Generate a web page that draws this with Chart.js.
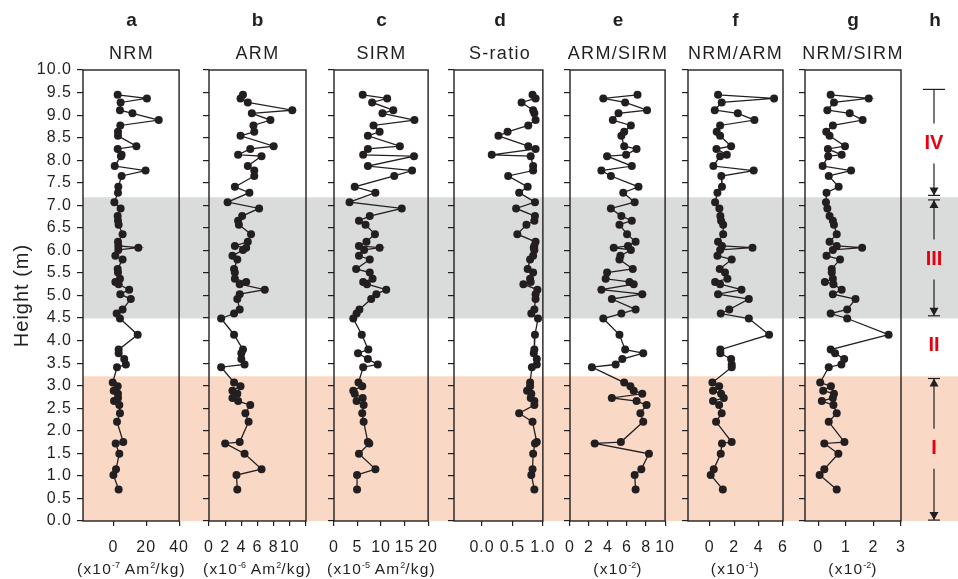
<!DOCTYPE html>
<html>
<head>
<meta charset="utf-8">
<script src="https://cdn.jsdelivr.net/npm/chart.js@4.4.0/dist/chart.umd.min.js"></script>
<style>
  body { margin: 0; background: #fff; }
  #wrap { position: relative; width: 958px; height: 579px; overflow: hidden; font-family: 'Liberation Sans', Arial, sans-serif; color: #231f20; }
  #wrap canvas { position: absolute; top: 0; }
  .lbl { position: absolute; width: 200px; text-align: center; white-space: nowrap; }
  .letter { font-weight: bold; font-size: 19px; line-height: 19px; top: 10px; }
  .name { font-size: 18px; line-height: 18px; top: 44px; letter-spacing: 1.3px; }
  .unit { font-size: 15.5px; line-height: 15px; top: 561px; letter-spacing: 1.2px; }
  .unit sup { font-size: 9px; line-height: 0; vertical-align: 6px; letter-spacing: 0; }
</style>
</head>
<body>
<div id="wrap"></div>
<script>
// sample heights (m), shared by all panels
const depth = [9.45, 9.37, 9.28, 9.11, 9.04, 8.89, 8.77, 8.63, 8.54, 8.31,
  8.25, 8.12, 8.09, 7.87, 7.77, 7.65, 7.41, 7.28, 7.07, 6.93,
  6.76, 6.66, 6.57, 6.36, 6.19, 6.10, 6.06, 6.01, 5.88, 5.80,
  5.59, 5.51, 5.37, 5.30, 5.25, 5.13, 5.03, 4.92, 4.69, 4.60,
  4.49, 4.13, 3.80, 3.72, 3.59, 3.47, 3.41, 3.07, 2.99, 2.89,
  2.82, 2.73, 2.66, 2.57, 2.39, 2.20, 1.75, 1.72, 1.49, 1.15,
  1.02, 0.70]

const nrm = [2.6, 20.4, 4.4, 4.0, 11.6, 27.6, 4.2, 2.8, 2.8, 14.0,
  2.6, 5.0, 4.6, 0.8, 19.6, 5.0, 3.0, 2.8, 0.6, 4.4,
  2.6, 2.8, 3.2, 5.6, 2.8, 3.0, 15.2, 3.0, 1.2, 5.6,
  2.6, 2.8, 4.0, 1.2, 3.2, 9.6, 4.2, 10.6, 5.6, 2.0,
  4.0, 14.8, 3.2, 3.2, 6.6, 7.6, 2.2, -0.4, 2.6, 0.2,
  2.8, 2.8, 0.4, 3.6, 4.0, 2.2, 6.0, 1.4, 3.6, 1.6,
  0.0, 3.2]

const arm = [4.2, 3.9, 4.8, 10.3, 5.3, 7.6, 5.5, 5.6, 3.9, 8.0,
  5.1, 3.6, 6.5, 4.8, 5.6, 5.6, 3.2, 5.0, 2.3, 6.2,
  4.1, 3.6, 3.7, 5.2, 4.8, 3.2, 4.6, 4.2, 2.9, 3.5,
  3.1, 3.2, 3.2, 4.6, 3.8, 6.9, 3.8, 3.5, 3.8, 3.1,
  1.5, 3.1, 4.2, 4.0, 4.0, 4.4, 1.5, 3.1, 3.9, 2.9,
  3.5, 2.9, 3.6, 5.1, 4.5, 4.9, 3.8, 2.0, 4.4, 6.5,
  3.4, 3.5]

const sirm = [6.1, 11.3, 8.1, 12.6, 10.3, 17.1, 8.4, 9.7, 7.2, 14.0,
  7.2, 6.2, 17.0, 7.2, 16.6, 12.8, 4.4, 8.8, 3.3, 14.4,
  7.6, 5.3, 6.7, 8.7, 6.9, 5.3, 9.7, 6.4, 5.3, 7.6,
  4.7, 7.6, 8.2, 6.2, 7.0, 11.1, 9.0, 7.9, 5.4, 4.8,
  4.1, 5.9, 7.3, 5.1, 7.2, 9.3, 6.2, 5.2, 6.0, 4.1,
  4.4, 6.1, 4.8, 6.3, 6.0, 6.3, 7.2, 7.5, 5.3, 8.8,
  4.9, 4.9]

const sRatio = [0.83, 0.88, 0.65, 0.84, 0.86, 0.88, 0.76, 0.42, 0.27, 0.76,
  0.88, 0.16, 0.80, 0.84, 0.84, 0.43, 0.75, 0.61, 0.87, 0.56,
  0.87, 0.86, 0.73, 0.58, 0.88, 0.86, 0.85, 0.86, 0.84, 0.79,
  0.75, 0.84, 0.79, 0.80, 0.68, 0.91, 0.88, 0.88, 0.86, 0.81,
  0.92, 0.87, 0.86, 0.85, 0.90, 0.90, 0.82, 0.79, 0.79, 0.74,
  0.81, 0.80, 0.86, 0.86, 0.61, 0.83, 0.90, 0.87, 0.84, 0.83,
  0.81, 0.86]

const armSirm = [7.1, 3.5, 5.8, 8.1, 5.1, 4.5, 6.4, 5.7, 5.4, 5.7,
  7.0, 5.9, 3.9, 6.5, 3.3, 4.3, 7.2, 5.6, 6.8, 4.3,
  5.4, 6.5, 5.2, 6.0, 6.9, 6.1, 4.6, 6.4, 5.3, 5.2,
  6.6, 3.9, 3.75, 6.25, 6.7, 3.3, 7.6, 4.4, 6.9, 5.4,
  3.5, 5.2, 5.8, 7.7, 5.5, 4.8, 2.3, 5.7, 6.35, 6.7,
  7.6, 4.4, 7.0, 8.05, 7.4, 7.7, 5.35, 2.6, 8.3, 7.5,
  6.8, 6.9]

const nrmArm = [0.68, 5.27, 0.98, 0.41, 2.3, 3.66, 0.85, 0.57, 0.85, 1.75,
  0.55, 1.4, 0.85, 0.3, 3.6, 0.95, 1.0, 0.63, 0.44, 0.79,
  0.87, 0.93, 1.1, 1.1, 0.68, 1.0, 3.5, 0.85, 0.63, 1.8,
  0.82, 1.25, 1.45, 0.44, 0.85, 2.6, 0.68, 3.2, 1.6, 0.9,
  3.2, 4.86, 0.87, 0.87, 1.75, 1.8, 1.8, 0.22, 0.77, 0.27,
  0.93, 1.15, 0.27, 0.77, 0.98, 0.52, 1.8, 1.0, 0.9, 0.33,
  0.08, 1.07]

const nrmSirm = [0.45, 1.83, 0.57, 0.33, 1.14, 1.61, 0.53, 0.29, 0.41, 0.97,
  0.35, 0.85, 0.36, 0.16, 1.19, 0.38, 0.74, 0.3, 0.28, 0.33,
  0.41, 0.53, 0.57, 0.67, 0.41, 0.67, 1.59, 0.53, 0.3, 0.79,
  0.49, 0.49, 0.53, 0.24, 0.55, 0.85, 0.53, 1.35, 1.05, 0.45,
  1.05, 2.55, 0.45, 0.61, 0.94, 0.84, 0.38, 0.07, 0.46, 0.18,
  0.57, 0.53, 0.13, 0.55, 0.67, 0.38, 0.95, 0.22, 0.73, 0.22,
  0.05, 0.67]

const panelLetters = ['a', 'b', 'c', 'd', 'e', 'f', 'g']
const panelNames = ['NRM', 'ARM', 'SIRM', 'S-ratio', 'ARM/SIRM', 'NRM/ARM', 'NRM/SIRM']
const panelValues = [nrm, arm, sirm, sRatio, armSirm, nrmArm, nrmSirm]
const xRanges = [[-18.5, 40], [0, 12], [0, 20], [-0.46, 1], [0, 10], [-1.78, 6], [-0.48, 3]]
const xTickValues = [[0, 20, 40], [0, 2, 4, 6, 8, 10, 12], [0, 5, 10, 15, 20], [0, 0.5, 1], [0, 2, 4, 6, 8, 10], [0, 2, 4, 6], [0, 1, 2, 3]]
const xTickLabels = [['0', '20', '40'], ['0', '2', '4', '6', '8', '10', ''], ['0', '5', '10', '15', '20'], ['0.0', '0.5', '1.0'], ['0', '2', '4', '6', '8', '10'], ['0', '2', '4', '6'], ['0', '1', '2', '3']]
const unitTexts = ['(x10<sup>-7</sup> Am<sup>2</sup>/kg)', '(x10<sup>-6</sup> Am<sup>2</sup>/kg)', '(x10<sup>-5</sup> Am<sup>2</sup>/kg)', '',
  '(x10<sup>-2</sup>)', '(x10<sup>-1</sup>)', '(x10<sup>-2</sup>)']

// background bands and lithological units (column h)
const grayBand = [4.5, 7.17]
const peachBand = [0, 3.2]
const unitNames = ['I', 'II', 'III', 'IV']
const unitLabelAt = [1.6, 3.9, 5.8, 8.37]
const unitSpans = [[0.02, 3.16], null, [4.55, 7.12], [7.22, 9.57]]

// layout (px)
const boxes = [[83, 180], [209, 306], [334, 429], [454, 546], [570, 666], [688, 783], [805, 901]]
const plotTop = 70
const plotBottom = 521
const H = 579
const ink = '#231f20'
const family = "'Liberation Sans', Arial, sans-serif"

Chart.defaults.font.family = family
Chart.defaults.color = ink

const wrap = document.getElementById('wrap')

const spacing = {
  id: 'spacing',
  beforeDraw(c) {
    c.ctx.letterSpacing = '1px'
  },
}

const frame = {
  id: 'frame',
  afterDraw(c) {
    const { left, top, right, bottom } = c.chartArea
    const ctx = c.ctx
    ctx.save()
    ctx.strokeStyle = ink
    ctx.lineWidth = 1.4
    ctx.strokeRect(left, top, right - left, bottom - top)
    ctx.restore()
  },
}

function addCanvas(left, width) {
  const cv = document.createElement('canvas')
  cv.width = width
  cv.height = H
  cv.style.left = left + 'px'
  cv.style.width = width + 'px'
  cv.style.height = H + 'px'
  wrap.appendChild(cv)
  return cv
}

function addLabel(cls, cx, html) {
  const d = document.createElement('div')
  d.className = 'lbl ' + cls
  d.style.left = cx - 100 + 'px'
  d.innerHTML = html
  wrap.appendChild(d)
}

// unit column drawn on the background chart
const unitColumn = {
  id: 'unitColumn',
  afterDraw(c) {
    const ctx = c.ctx
    const y = c.scales.y
    const x = 934
    const gap = 20
    ctx.save()
    ctx.strokeStyle = ink
    ctx.fillStyle = ink
    ctx.lineWidth = 1.2
    const arrow = (tip, dir) => {
      ctx.beginPath()
      ctx.moveTo(x, tip)
      ctx.lineTo(x - 4.5, tip - dir * 8)
      ctx.lineTo(x + 4.5, tip - dir * 8)
      ctx.closePath()
      ctx.fill()
      ctx.beginPath()
      ctx.moveTo(x - 6, tip)
      ctx.lineTo(x + 6, tip)
      ctx.stroke()
    }
    unitSpans.forEach((span, i) => {
      if (!span) return
      const yLo = y.getPixelForValue(span[0])
      const yHi = y.getPixelForValue(span[1])
      const yc = y.getPixelForValue(unitLabelAt[i])
      ctx.beginPath()
      ctx.moveTo(x, yHi)
      ctx.lineTo(x, yc - gap)
      ctx.moveTo(x, yc + gap)
      ctx.lineTo(x, yLo)
      ctx.stroke()
      arrow(yLo, 1)
      if (i === unitSpans.length - 1) {
        ctx.beginPath()
        ctx.moveTo(x - 11, yHi)
        ctx.lineTo(x + 11, yHi)
        ctx.stroke()
      } else {
        arrow(yHi, -1)
      }
    })
    ctx.fillStyle = '#e60012'
    ctx.font = 'bold 20px ' + family
    ctx.textAlign = 'center'
    ctx.textBaseline = 'middle'
    unitNames.forEach((n, i) => {
      ctx.fillText(n, x, y.getPixelForValue(unitLabelAt[i]))
    })
    ctx.restore()
  },
}

// background chart: bands drawn as floating bars across the whole width
new Chart(addCanvas(0, 958), {
  type: 'bar',
  data: {
    labels: ['span'],
    datasets: [
      { data: [grayBand], backgroundColor: '#dadbdb', barPercentage: 1, categoryPercentage: 1, grouped: false, borderWidth: 0 },
      { data: [peachBand], backgroundColor: '#f9d9c6', barPercentage: 1, categoryPercentage: 1, grouped: false, borderWidth: 0 },
    ],
  },
  options: {
    responsive: false,
    animation: false,
    events: [],
    layout: { padding: { left: boxes[0][0], right: 0, top: plotTop, bottom: H - plotBottom } },
    plugins: { legend: { display: false }, tooltip: { enabled: false } },
    scales: {
      x: { display: false },
      y: { display: false, min: 0, max: 10 },
    },
  },
  plugins: [unitColumn],
})

panelValues.forEach((vals, i) => {
  const [L, R] = boxes[i]
  const padL = i === 0 ? L : 40
  const padR = 20
  const w = R - L + padL + padR
  const cv = addCanvas(L - padL, w)
  const cx = (L + R) / 2

  addLabel('letter', cx, panelLetters[i])
  addLabel('name', cx, panelNames[i])
  if (unitTexts[i]) addLabel('unit', cx, unitTexts[i])

  new Chart(cv, {
    type: 'scatter',
    data: {
      datasets: [
        {
          data: depth.map((d, k) => ({ x: vals[k], y: d })),
          showLine: true,
          borderColor: ink,
          borderWidth: 1.3,
          pointRadius: 4,
          pointHoverRadius: 4,
          pointBackgroundColor: ink,
          pointBorderWidth: 0,
        },
      ],
    },
    options: {
      responsive: false,
      animation: false,
      events: [],
      layout: { padding: { top: plotTop, right: padR, left: 0, bottom: 0 } },
      plugins: { legend: { display: false }, tooltip: { enabled: false } },
      scales: {
        x: {
          type: 'linear',
          min: xRanges[i][0],
          max: xRanges[i][1],
          afterFit: (s) => {
            s.height = H - plotBottom
          },
          afterBuildTicks: (s) => {
            s.ticks = xTickValues[i].map((v) => ({ value: v }))
          },
          ticks: {
            callback: (v, k) => xTickLabels[i][k],
            font: { size: 16 },
            color: ink,
            padding: 12,
            maxRotation: 0,
            autoSkip: false,
          },
          grid: { drawOnChartArea: false, tickLength: 5, color: ink, lineWidth: 1.2 },
          border: { display: false },
        },
        y: {
          min: 0,
          max: 10,
          afterFit: (s) => {
            s.width = padL
          },
          ticks: {
            stepSize: 0.5,
            display: i === 0,
            callback: (v) => v.toFixed(1),
            font: { size: 16 },
            color: ink,
            padding: 5,
          },
          grid: { drawOnChartArea: false, tickLength: 6, color: ink, lineWidth: 1.2 },
          border: { display: false },
          title: {
            display: i === 0,
            text: 'Height (m)',
            font: { size: 20 },
            color: ink,
            padding: { top: 10, bottom: 0 },
          },
        },
      },
    },
    plugins: [spacing, frame],
  })
})

addLabel('letter', 935, 'h')
</script>
</body>
</html>
